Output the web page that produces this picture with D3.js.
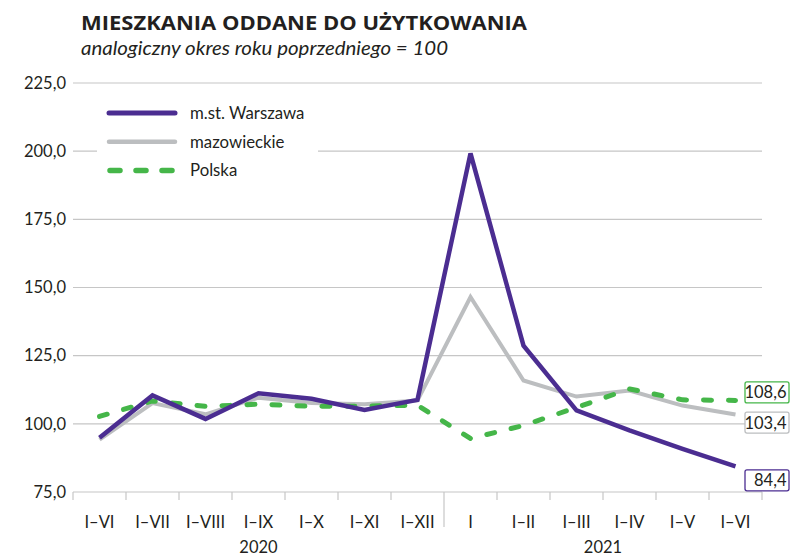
<!DOCTYPE html>
<html>
<head>
<meta charset="utf-8">
<script src="https://cdn.jsdelivr.net/npm/d3@7"></script>
<style>
  body { margin: 0; background: #fff; }
  svg { font-family: Lato, "Open Sans", sans-serif; }
</style>
</head>
<body>
<svg width="792" height="556"></svg>
<script>
// dane
const periods = ['I–VI','I–VII','I–VIII','I–IX','I–X','I–XI','I–XII','I','I–II','I–III','I–IV','I–V','I–VI'];
const years = [{label: '2020', from: 0, to: 6}, {label: '2021', from: 7, to: 12}];
const warszawa = [94.9, 110.4, 101.8, 111.2, 109.2, 105.1, 108.8, 199.2, 128.7, 104.9, 97.6, 90.8, 84.4];
const mazowieckie = [94.2, 107.6, 103.5, 109.6, 107.6, 107.2, 108.6, 146.5, 115.9, 110.0, 112.2, 106.7, 103.4];
const polska = [102.7, 108.4, 106.4, 107.2, 106.4, 106.5, 106.8, 94.6, 99.4, 106.0, 112.8, 108.8, 108.6];
const yTicks = [75, 100, 125, 150, 175, 200, 225];

const series = [
  {name: 'mazowieckie', values: mazowieckie, color: '#bcbec0', width: 4, dash: null, labelShift: 8},
  {name: 'Polska', values: polska, color: '#45b649', width: 5, dash: '8,17', labelShift: -8},
  {name: 'm.st. Warszawa', values: warszawa, color: '#4b2d91', width: 4.5, dash: null, labelShift: 14}
];
const legendOrder = [series[2], series[0], series[1]];

const svg = d3.select('svg');
const textColor = '#231f20';
const gridColor = '#c6c6c6';
const fmt = v => d3.format('.1f')(v).replace('.', ',');

const margin = {top: 83, left: 73, right: 30, bottom: 64};
const width = +svg.attr('width');
const height = +svg.attr('height');
const innerW = width - margin.left - margin.right;
const innerH = height - margin.top - margin.bottom;

const x = d3.scaleBand().domain(d3.range(periods.length)).range([0, innerW]);
const y = d3.scaleLinear().domain([75, 225]).range([innerH, 0]);

// title
svg.append('text')
  .attr('x', 81).attr('y', 29.7)
  .attr('font-family', '"Open Sans", sans-serif')
  .attr('font-size', 19.5).attr('font-weight', 'bold').attr('fill', textColor)
  .attr('textLength', 446).attr('lengthAdjust', 'spacingAndGlyphs')
  .text('MIESZKANIA ODDANE DO UŻYTKOWANIA');
svg.append('text')
  .attr('x', 81).attr('y', 55)
  .attr('font-size', 20).attr('font-style', 'italic').attr('fill', textColor)
  .attr('textLength', 367).attr('lengthAdjust', 'spacingAndGlyphs')
  .text('analogiczny okres roku poprzedniego = 100');

const g = svg.append('g').attr('transform', `translate(${margin.left},${margin.top})`);

// grid
g.selectAll('.grid').data(yTicks).enter().append('line')
  .attr('x1', 0).attr('x2', innerW)
  .attr('y1', d => y(d)).attr('y2', d => y(d))
  .attr('stroke', gridColor).attr('stroke-width', 1.2);

// y labels
g.selectAll('.ylab').data(yTicks).enter().append('text')
  .attr('x', -7).attr('y', d => y(d)).attr('dy', '0.35em')
  .attr('text-anchor', 'end').attr('font-size', 16.5).attr('fill', textColor)
  .text(fmt);

// x ticks
const tickPos = d3.range(periods.length + 1).map(i => i < periods.length ? x(i) : innerW);
g.selectAll('.xtick').data(tickPos).enter().append('line')
  .attr('x1', d => d).attr('x2', d => d)
  .attr('y1', innerH).attr('y2', (d, i) => i === 7 ? innerH + 35 : innerH + 8)
  .attr('stroke', gridColor).attr('stroke-width', 1.2);

g.selectAll('.xlab').data(periods).enter().append('text')
  .attr('x', (d, i) => x(i) + x.bandwidth() / 2).attr('y', innerH + 36)
  .attr('text-anchor', 'middle').attr('font-size', 16.5).attr('fill', textColor)
  .text(d => d);

g.selectAll('.year').data(years).enter().append('text')
  .attr('x', d => (x(d.from) + x(d.to) + x.bandwidth()) / 2).attr('y', innerH + 60.5)
  .attr('text-anchor', 'middle').attr('font-size', 16.5).attr('fill', textColor)
  .text(d => d.label);

// lines
const line = d3.line().x((d, i) => x(i) + x.bandwidth() / 2).y(d => y(d));
series.forEach(s => {
  g.append('path').datum(s.values)
    .attr('d', line).attr('fill', 'none')
    .attr('stroke', s.color).attr('stroke-width', s.width)
    .attr('stroke-dasharray', s.dash)
    .attr('stroke-linecap', s.dash ? 'round' : 'butt')
    .attr('stroke-linejoin', 'miter').attr('stroke-miterlimit', 3);
});

// end labels
const last = periods.length - 1;
series.forEach(s => {
  const cy = y(s.values[last]) + s.labelShift;
  const lx = innerW - 17;
  g.append('rect')
    .attr('x', lx).attr('y', cy - 10.5).attr('width', 44).attr('height', 21)
    .attr('rx', 2).attr('fill', '#fff').attr('stroke', s.color).attr('stroke-width', 1.3);
  g.append('text')
    .attr('x', lx + 41.5).attr('y', cy).attr('dy', '0.36em')
    .attr('text-anchor', 'end').attr('font-size', 16.5).attr('fill', textColor)
    .text(fmt(s.values[last]));
});

// legend
const leg = svg.append('g');
leg.append('rect').attr('x', 97).attr('y', 95).attr('width', 221).attr('height', 92).attr('fill', '#fff');
legendOrder.forEach((s, i) => {
  const ly = 113 + i * 28.7;
  leg.append('line')
    .attr('x1', s.dash ? 110 : 109).attr('x2', s.dash ? 173 : 175)
    .attr('y1', ly).attr('y2', ly)
    .attr('stroke', s.color).attr('stroke-width', s.width + 0.5)
    .attr('stroke-dasharray', s.dash ? '10,16' : null)
    .attr('stroke-linecap', 'round');
  leg.append('text')
    .attr('x', 190).attr('y', ly).attr('dy', '0.35em')
    .attr('font-size', 16.8).attr('fill', textColor)
    .text(s.name);
});
</script>
</body>
</html>
